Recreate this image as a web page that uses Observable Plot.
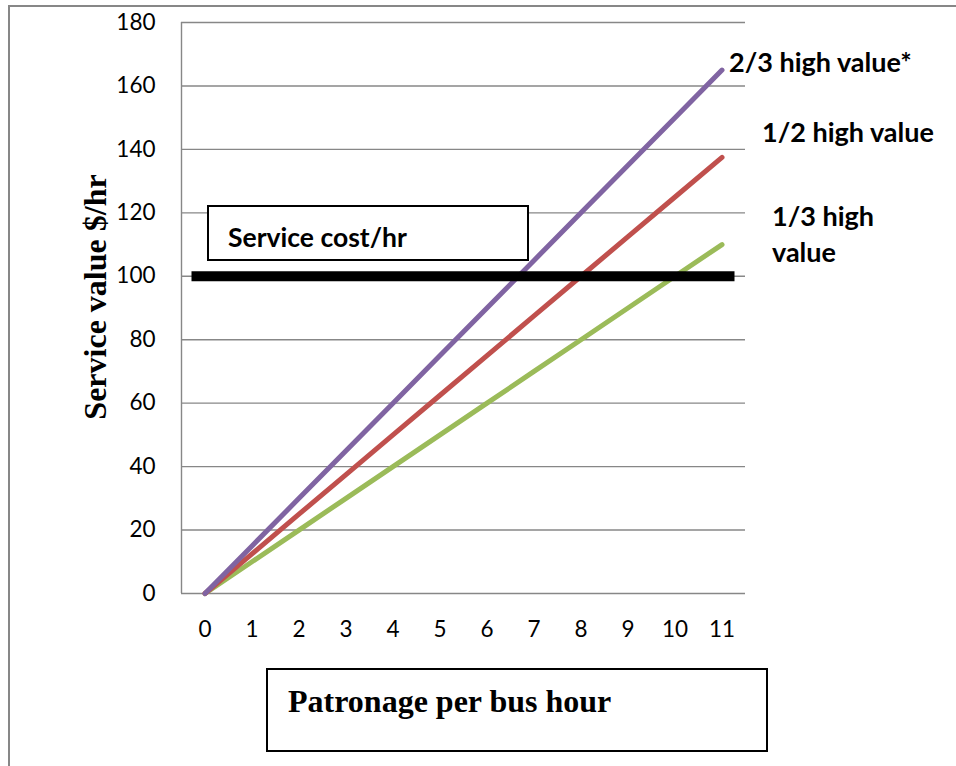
<!DOCTYPE html>
<html>
<head>
<meta charset="utf-8">
<script src="https://cdn.jsdelivr.net/npm/d3@7"></script>
<script src="https://cdn.jsdelivr.net/npm/@observablehq/plot@0.6"></script>
<style>
  html, body { margin: 0; padding: 0; background: #fff; }
  #wrap { position: relative; width: 956px; height: 766px; overflow: hidden; background: #fff; }
  #chart { position: absolute; left: 0; top: 0; }
  #frame { position: absolute; left: 8px; top: 5px; right: -10px; bottom: -10px;
           border-left: 2px solid #878787; border-top: 2px solid #878787; pointer-events: none; }
  .box { position: absolute; box-sizing: border-box; border: 2px solid #000; background: #fff; }
  #costbox { left: 207px; top: 205px; width: 322px; height: 56px;
             font: bold 26.5px Lato, "Open Sans", sans-serif; padding-left: 19px; line-height: 60px; }
  #xbox { left: 266px; top: 668px; width: 502px; height: 84px;
          font: bold 32px "Liberation Serif", "DejaVu Serif", serif; padding-left: 20px; padding-top: 12px; line-height: 38px; }
</style>
</head>
<body>
<div id="wrap">
  <div id="chart"></div>
  <div id="frame"></div>
  <div class="box" id="costbox">Service cost/hr</div>
  <div class="box" id="xbox">Patronage per bus hour</div>
</div>
<script>
// ---- Data ----
const categories = [0, 1, 2, 3, 4, 5, 6, 7, 8, 9, 10, 11];
const twoThirdsHigh = [0, 15, 30, 45, 60, 75, 90, 105, 120, 135, 150, 165];
const halfHigh = [0, 12.5, 25, 37.5, 50, 62.5, 75, 87.5, 100, 112.5, 125, 137.5];
const thirdHigh = [0, 10, 20, 30, 40, 50, 60, 70, 80, 90, 100, 110];
const serviceCost = 100;
const yTicks = [0, 20, 40, 60, 80, 100, 120, 140, 160, 180];
const seriesNames = ["1/3 high value", "1/2 high value", "2/3 high value*"];
const seriesColors = ["#9BBB59", "#C0504D", "#8064A2"];
const yTitle = "Service value $/hr";

// ---- Build table ----
const seriesValues = [thirdHigh, halfHigh, twoThirdsHigh];
const rows = [];
seriesValues.forEach((vals, i) => {
  categories.forEach((c, j) => rows.push({x: c, y: vals[j], series: seriesNames[i]}));
});
const lastOf = (i) => [{x: categories[categories.length - 1], y: seriesValues[i][seriesValues[i].length - 1]}];
const xDomain = [d3.min(categories) - 0.5, d3.max(categories) + 0.5];

const labelFont = {fontFamily: "Lato, 'Open Sans', sans-serif", fontWeight: "bold", fontSize: 27, fill: "#000", textAnchor: "start"};

const chart = Plot.plot({
  width: 956,
  height: 766,
  marginLeft: 181,
  marginRight: 211,
  marginTop: 22,
  marginBottom: 173,
  style: {fontFamily: "Lato, 'Open Sans', sans-serif", fontSize: "22px", color: "#000", background: "transparent"},
  x: {domain: xDomain},
  y: {domain: [0, 180]},
  color: {domain: seriesNames, range: seriesColors},
  marks: [
    Plot.gridY(yTicks, {stroke: "#878787", strokeOpacity: 1, strokeWidth: 1.4}),
    Plot.ruleX([xDomain[0]], {stroke: "#878787", strokeWidth: 1.4}),
    Plot.axisY(yTicks, {tickSize: 0, tickPadding: 26, fontSize: 22.5, label: null}),
    Plot.axisX(categories, {tickSize: 0, tickPadding: 28, fontSize: 22.5, label: null}),
    Plot.line(rows, {x: "x", y: "y", z: "series", stroke: "series", strokeWidth: 5, strokeLinecap: "round"}),
    Plot.ruleY([serviceCost], {x1: categories[0], x2: categories[categories.length - 1], insetLeft: -13, insetRight: -13, stroke: "#000", strokeWidth: 10}),
    Plot.text(lastOf(2), {x: "x", y: "y", text: () => seriesNames[2], dx: 7, dy: -7, ...labelFont}),
    Plot.text(lastOf(1), {x: "x", y: "y", text: () => seriesNames[1], dx: 40, dy: -24, ...labelFont}),
    Plot.text(lastOf(0), {x: "x", y: "y", text: () => "1/3 high\nvalue", dx: 50, dy: -12, lineHeight: 1.35, ...labelFont}),
    Plot.text([yTitle], {frameAnchor: "left", text: d => d, rotate: -90, dx: -86, dy: -11, textAnchor: "middle",
      fontFamily: "'Liberation Serif', serif", fontWeight: "bold", fontSize: 32, fill: "#000"})
  ]
});
document.getElementById("chart").appendChild(chart);
</script>
</body>
</html>
